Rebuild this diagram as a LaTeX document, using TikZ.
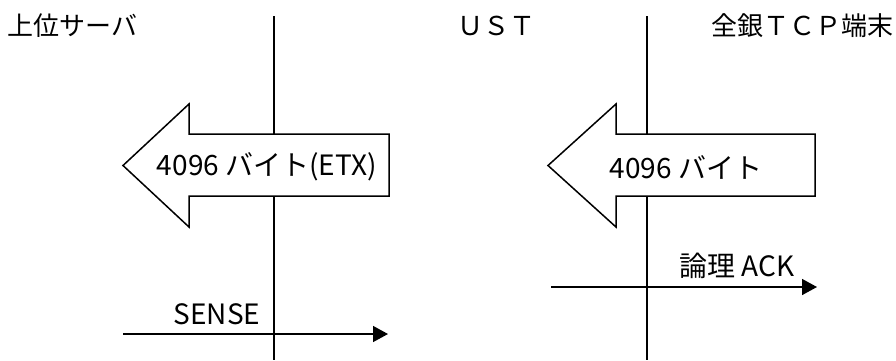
\documentclass[tikz,border=0pt]{standalone}
\usepackage{fontspec}
\setmainfont{Noto Sans CJK JP}
\usetikzlibrary{arrows.meta}

\begin{document}
\begin{tikzpicture}[x=1pt,y=-1pt,line width=1.5pt,
  lbl/.style={inner sep=0pt,font=\fontsize{26pt}{30pt}\selectfont},
  txt/.style={inner sep=0pt,font=\fontsize{28pt}{32pt}\selectfont},
  big/.style={draw,fill=white,line join=miter},
  msg/.style={-{Triangle[length=15pt,width=16pt]}}]
  \useasboundingbox (0,0) rectangle (896,360);
  % headers
  \node[lbl,anchor=west] (srv) at (7,26) {上位サーバ};
  \node[lbl] (ust) at (496,26) {ＵＳＴ};
  \node[lbl,anchor=east] (term) at (894,26) {全銀ＴＣＰ端末};
  % boundaries
  \coordinate (b1top) at (274,16);
  \coordinate (b1bot) at (274,360);
  \coordinate (b2top) at (647,16);
  \coordinate (b2bot) at (647,360);
  \draw (b1top)--(b1bot);
  \draw (b2top)--(b2bot);
  % data blocks
  \draw[big] (389,134)--(189,134)--(189,104)--(123,165.5)--(189,227)--(189,196)--(389,196)--cycle;
  \node[txt] (d1) at (267,167) {4096 バイト(ETX)};
  \draw[big] (815,134)--(616,134)--(616,104)--(548,165.5)--(616,227)--(616,196)--(815,196)--cycle;
  \node[txt] (d2) at (686,167) {4096 バイト};
  % ack
  \coordinate (a1) at (551,287);
  \coordinate (a2) at (817,287);
  \draw[msg] (a1)--(a2);
  \node[txt] (ack) at (737,266) {論理 ACK};
  % sense
  \coordinate (s1) at (123,334);
  \coordinate (s2) at (388,334);
  \draw[msg] (s1)--(s2);
  \node[txt] (sense) at (217,314) {SENSE};
\end{tikzpicture}
\end{document}
